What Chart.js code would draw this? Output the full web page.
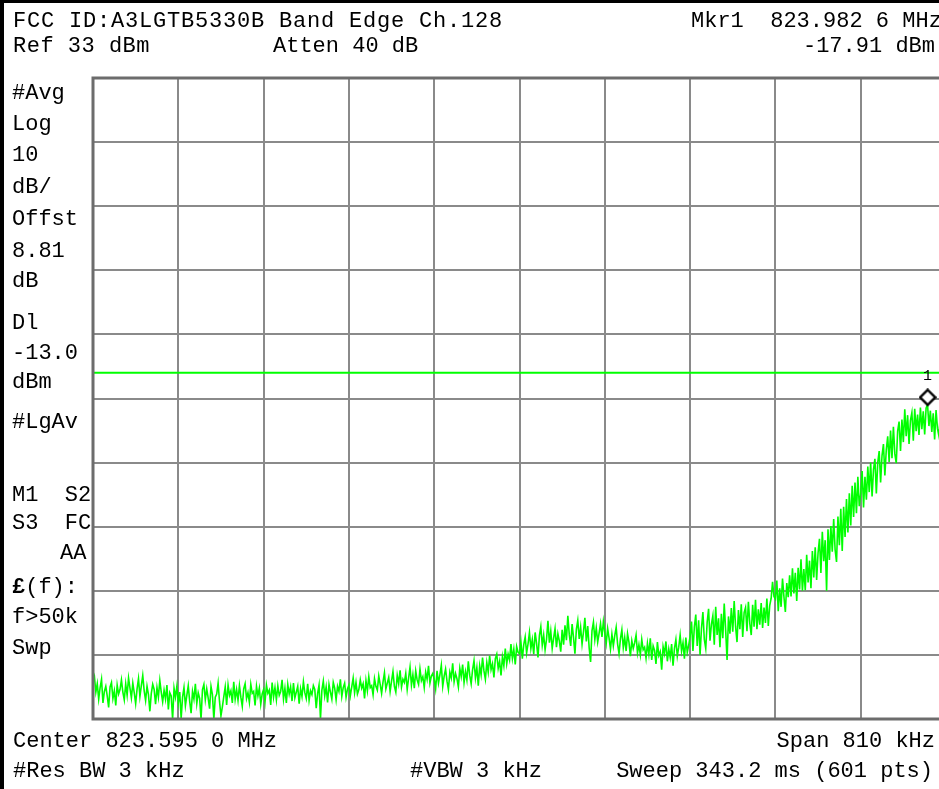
<!DOCTYPE html>
<html>
<head>
<meta charset="utf-8">
<title>FCC ID:A3LGTB5330B Band Edge Ch.128</title>
<script src="https://cdn.jsdelivr.net/npm/chart.js@4.4.1/dist/chart.umd.min.js"></script>
<style>
	html, body { margin: 0; padding: 0; background: #fff; width: 939px; height: 789px; overflow: hidden; }
	#screen { position: relative; width: 939px; height: 789px; overflow: hidden; }
	#trace { position: absolute; left: 0; top: 0; }
	.edge { position: absolute; background: #000; }
	.t { position: absolute; font-family: "Liberation Mono", "DejaVu Sans Mono", monospace; font-size: 22px; line-height: 22px; color: #000; white-space: pre; }
	.r { text-align: right; }
	.mk { position: absolute; font-family: "Liberation Mono", monospace; font-size: 15px; line-height: 15px; color: #000; }
</style>
</head>
<body>
<div id="screen">
	<canvas id="trace" width="960" height="789"></canvas>
	<div class="edge" style="left:0;top:0;width:4px;height:789px"></div>
	<div class="edge" style="left:0;top:0;width:939px;height:3px"></div>

	<div class="t" style="left:13px;top:11px;letter-spacing:0.8px">FCC ID:A3LGTB5330B Band Edge Ch.128</div>
	<div class="t" style="left:691px;top:11px">Mkr1  823.982 6 MHz</div>
	<div class="t" style="left:13px;top:36px;letter-spacing:0.5px">Ref 33 dBm</div>
	<div class="t" style="left:273px;top:36px">Atten 40 dB</div>
	<div class="t r" style="right:4px;top:36px">-17.91 dBm</div>

	<div class="t" style="left:12px;top:83px">#Avg</div>
	<div class="t" style="left:12px;top:114px">Log</div>
	<div class="t" style="left:12px;top:145px">10</div>
	<div class="t" style="left:12px;top:177px">dB/</div>
	<div class="t" style="left:12px;top:209px">Offst</div>
	<div class="t" style="left:12px;top:241px">8.81</div>
	<div class="t" style="left:12px;top:271px">dB</div>
	<div class="t" style="left:12px;top:313px">Dl</div>
	<div class="t" style="left:12px;top:343px">-13.0</div>
	<div class="t" style="left:12px;top:372px">dBm</div>
	<div class="t" style="left:12px;top:412px">#LgAv</div>
	<div class="t" style="left:12px;top:485px">M1  S2</div>
	<div class="t" style="left:12px;top:513px">S3  FC</div>
	<div class="t" style="left:60px;top:543px">AA</div>
	<div class="t" style="left:12px;top:577px"><b>£</b>(f):</div>
	<div class="t" style="left:12px;top:607px">f&gt;50k</div>
	<div class="t" style="left:12px;top:638px">Swp</div>

	<div class="t" style="left:13px;top:731px">Center 823.595 0 MHz</div>
	<div class="t r" style="right:4px;top:731px">Span 810 kHz</div>
	<div class="t" style="left:13px;top:761px">#Res BW 3 kHz</div>
	<div class="t" style="left:410px;top:761px">#VBW 3 kHz</div>
	<div class="t r" style="right:6px;top:761px">Sweep 343.2 ms (601 pts)</div>

	<div class="mk" id="mkr-label">1</div>
</div>
<script>
// sweep settings (kHz offsets from center 823.595 0 MHz)
const spanKHz = 810;
const refLevel = 33;
const dbPerDiv = 10;
const displayLine = -13.0;

// marker 1: 823.982 6 MHz, -17.91 dBm
const mkrOffsetKHz = 387.6;
const mkrLevel = -17.91;

// trace, dBm, one value per sweep point (601 pts)
const traceLevels = [
	-61.2,-60.4,-62.8,-61.5,-63.9,-62.1,-60.8,-64.5,-62.7,-61.9,-63.4,-65.2,-62.0,-61.3,-63.8,-62.6,-64.9,-61.7,-63.1,-62.4,
	-60.9,-62.8,-64.0,-61.5,-63.3,-60.6,-62.2,-63.7,-61.4,-62.9,-64.6,-62.3,-60.7,-63.5,-61.8,-60.2,-62.6,-64.1,-61.9,-63.2,
	-65.8,-63.0,-61.6,-62.4,-64.7,-62.1,-63.6,-61.0,-62.8,-64.3,-62.5,-63.9,-61.7,-65.5,-62.9,-63.4,-67.0,-62.2,-63.6,-61.9,
	-64.5,-62.8,-66.9,-63.6,-62.1,-64.9,-63.3,-61.8,-64.2,-66.1,-62.7,-63.9,-61.5,-64.6,-62.9,-63.8,-67.0,-62.4,-61.6,-64.0,
	-62.3,-63.7,-65.4,-61.9,-63.2,-67.0,-63.6,-63.1,-61.4,-64.3,-66.5,-65.1,-63.5,-62.0,-64.8,-61.7,-63.3,-62.6,-64.5,-61.2,
	-63.9,-62.4,-64.1,-61.8,-63.6,-65.0,-62.3,-61.5,-63.8,-62.9,-64.4,-61.6,-63.0,-62.7,-64.9,-61.9,-63.4,-62.2,-64.7,-63.1,
	-62.4,-64.3,-61.7,-63.0,-62.5,-64.8,-61.3,-63.6,-62.1,-64.0,-61.8,-63.3,-62.7,-60.9,-63.9,-62.2,-64.5,-61.6,-63.1,-62.0,
	-64.2,-61.4,-63.7,-62.8,-61.9,-64.6,-62.3,-63.5,-61.2,-62.9,-63.8,-61.5,-64.1,-62.6,-63.2,-61.8,-62.4,-65.3,-63.0,-61.7,
	-67.0,-62.5,-61.1,-63.4,-62.0,-64.4,-61.6,-62.8,-63.9,-61.3,-62.2,-64.0,-61.9,-62.7,-60.8,-63.5,-62.1,-61.4,-63.6,-62.3,
	-61.7,-63.4,-62.0,-60.6,-62.9,-61.3,-63.1,-62.4,-60.9,-62.2,-61.5,-63.8,-61.0,-62.6,-60.4,-62.1,-61.8,-63.2,-60.7,-61.9,
	-62.5,-60.3,-61.6,-63.0,-61.2,-59.8,-62.3,-61.4,-60.5,-62.7,-61.1,-59.6,-61.9,-62.8,-60.2,-61.5,-59.4,-62.0,-60.8,-61.3,
	-59.9,-62.4,-60.6,-58.9,-61.7,-60.1,-62.2,-59.5,-60.9,-61.6,-59.2,-61.0,-60.4,-62.1,-59.7,-60.8,-58.7,-61.4,-60.3,-59.9,
	-60.8,-62.3,-59.5,-61.4,-60.1,-58.6,-61.9,-60.3,-59.2,-61.1,-62.4,-59.7,-60.6,-58.3,-61.2,-59.9,-60.7,-62.0,-59.1,-60.4,
	-58.5,-61.3,-59.6,-60.9,-58.0,-60.2,-61.5,-59.3,-57.9,-60.6,-59.0,-61.8,-58.7,-60.1,-57.4,-59.5,-60.8,-58.2,-59.7,-57.1,
	-59.3,-58.4,-60.5,-57.6,-56.9,-59.1,-58.0,-60.2,-57.3,-58.7,-56.0,-58.4,-56.9,-57.8,-55.3,-57.6,-56.1,-58.5,-55.7,-56.6,
	-56.8,-55.0,-57.6,-55.4,-54.2,-56.7,-55.3,-53.5,-56.0,-54.6,-56.9,-53.5,-55.2,-57.4,-54.0,-52.6,-55.5,-53.9,-56.2,-54.6,
	-51.7,-55.1,-53.3,-56.0,-54.4,-52.9,-55.8,-53.7,-54.8,-56.5,-53.1,-55.4,-52.4,-54.7,-50.9,-53.8,-55.6,-52.2,-54.3,-56.8,
	-53.0,-51.6,-54.5,-52.7,-55.3,-53.4,-51.2,-54.9,-52.5,-55.9,-58.1,-53.2,-51.9,-54.6,-52.8,-55.0,-53.6,-52.1,-54.2,-51.8,
	-53.5,-55.2,-52.9,-54.4,-56.1,-53.8,-55.6,-54.0,-52.7,-55.3,-56.8,-54.5,-53.1,-55.9,-54.3,-56.4,-53.7,-55.0,-57.2,-54.8,
	-56.0,-55.1,-53.9,-56.7,-55.4,-57.0,-54.6,-56.2,-55.8,-57.5,-55.2,-56.9,-54.4,-57.8,-55.6,-56.3,-58.4,-55.0,-57.1,-56.5,
	-59.3,-55.7,-56.8,-54.9,-58.0,-56.1,-57.4,-55.3,-58.7,-56.0,-54.6,-57.2,-55.8,-53.9,-56.4,-55.1,-57.6,-54.3,-56.6,-55.5,
	-54.1,-51.8,-56.4,-52.6,-50.7,-55.6,-51.6,-57.0,-52.9,-50.3,-54.6,-56.0,-51.9,-49.8,-54.8,-52.2,-50.9,-55.4,-49.5,-53.9,
	-51.3,-55.8,-50.6,-54.4,-49.0,-53.1,-57.8,-51.0,-53.7,-49.7,-53.4,-48.6,-52.6,-55.0,-50.0,-53.0,-49.1,-54.2,-50.4,-49.6,
	-53.3,-48.7,-52.1,-53.9,-49.2,-52.6,-48.4,-53.0,-49.9,-52.3,-48.9,-52.8,-49.6,-52.0,-48.2,-52.5,-49.3,-48.2,-45.6,-47.9,
	-48.3,-45.4,-50.2,-46.6,-49.5,-45.1,-47.9,-50.3,-45.8,-48.0,-44.6,-47.9,-43.5,-47.4,-44.2,-48.6,-43.4,-46.8,-42.1,-47.0,
	-43.6,-46.9,-41.4,-45.7,-42.3,-46.6,-40.8,-44.9,-40.2,-45.3,-41.1,-38.9,-44.2,-37.8,-42.4,-39.1,-47.0,-37.4,-42.2,-36.9,
	-40.9,-35.8,-40.6,-42.5,-35.4,-39.9,-34.2,-40.8,-33.9,-38.6,-32.7,-37.9,-31.8,-36.8,-30.6,-35.5,-30.1,-34.9,-29.2,-33.8,
	-31.9,-28.3,-34.0,-29.2,-32.8,-27.6,-31.6,-27.0,-32.3,-28.1,-26.4,-31.8,-27.0,-25.2,-30.1,-25.9,-24.1,-29.0,-25.0,-22.9,
	-26.9,-22.0,-26.3,-21.4,-25.6,-27.1,-22.1,-20.6,-25.2,-20.3,-23.8,-18.7,-22.9,-19.6,-24.1,-20.4,-19.2,-23.6,-18.6,-22.1,
	-19.5,-22.7,-18.4,-21.8,-19.0,-22.6,-18.5,-17.91,-21.3,-18.9,-22.2,-19.3,-23.4,-18.8,-21.7,-22.8,-19.6,-19.2,-22.5,-20.1,
	-22.6
];

(() => {
	const canvas = document.getElementById('trace');
	const half = spanKHz / 2;
	const step = spanKHz / (traceLevels.length - 1);
	const tracePoints = traceLevels.map((v, i) => ({ x: -half + i * step, y: v }));

	const gridColor = '#8a8a8a';

	// analyzer draws the marker diamond sitting on top of the trace point
	const diamond = document.createElement('canvas');
	diamond.width = 18;
	diamond.height = 32;
	(function drawDiamond() {
		const c = diamond.getContext('2d');
		c.beginPath();
		c.moveTo(9, 1.5);
		c.lineTo(16.5, 9);
		c.lineTo(9, 16.5);
		c.lineTo(1.5, 9);
		c.closePath();
		c.fillStyle = '#fff';
		c.fill();
		c.lineWidth = 2.4;
		c.strokeStyle = '#000';
		c.stroke();
	})();

	// heavier outline round the graticule
	const framePlugin = {
		id: 'frame',
		afterDraw(chart) {
			const { ctx, chartArea: a } = chart;
			ctx.save();
			ctx.strokeStyle = '#6c6c6c';
			ctx.lineWidth = 3;
			ctx.strokeRect(a.left, a.top, a.right - a.left, a.bottom - a.top);
			ctx.restore();
		}
	};

	const chart = new Chart(canvas, {
		type: 'line',
		data: {
			datasets: [
				{
					label: 'Mkr1',
					data: [{ x: mkrOffsetKHz, y: mkrLevel }],
					showLine: false,
					pointStyle: diamond,
					order: 1
				},
				{
					label: 'Trace',
					data: tracePoints,
					borderColor: '#00ff00',
					borderWidth: 1.6,
					pointRadius: 0,
					tension: 0,
					order: 2
				},
				{
					label: 'Dl',
					data: [{ x: -half, y: displayLine }, { x: half, y: displayLine }],
					borderColor: '#00ff00',
					borderWidth: 2,
					pointRadius: 0,
					order: 3
				}
			]
		},
		options: {
			responsive: false,
			animation: false,
			events: [],
			layout: { padding: { left: 93, top: 78, right: 14, bottom: 70 } },
			plugins: { legend: { display: false }, tooltip: { enabled: false } },
			scales: {
				x: {
					type: 'linear',
					min: -half,
					max: half,
					ticks: { display: false, stepSize: spanKHz / 10 },
					grid: { color: gridColor, lineWidth: 2, drawTicks: false },
					border: { display: false }
				},
				y: {
					type: 'linear',
					min: refLevel - 10 * dbPerDiv,
					max: refLevel,
					ticks: { display: false, stepSize: dbPerDiv },
					grid: { color: gridColor, lineWidth: 2, drawTicks: false },
					border: { display: false }
				}
			}
		},
		plugins: [framePlugin]
	});

	// marker number sits just above the diamond
	const lbl = document.getElementById('mkr-label');
	const mx = chart.scales.x.getPixelForValue(mkrOffsetKHz);
	const my = chart.scales.y.getPixelForValue(mkrLevel);
	lbl.style.left = `${Math.round(mx - 5)}px`;
	lbl.style.top = `${Math.round(my - 35)}px`;
})();
</script>
</body>
</html>
